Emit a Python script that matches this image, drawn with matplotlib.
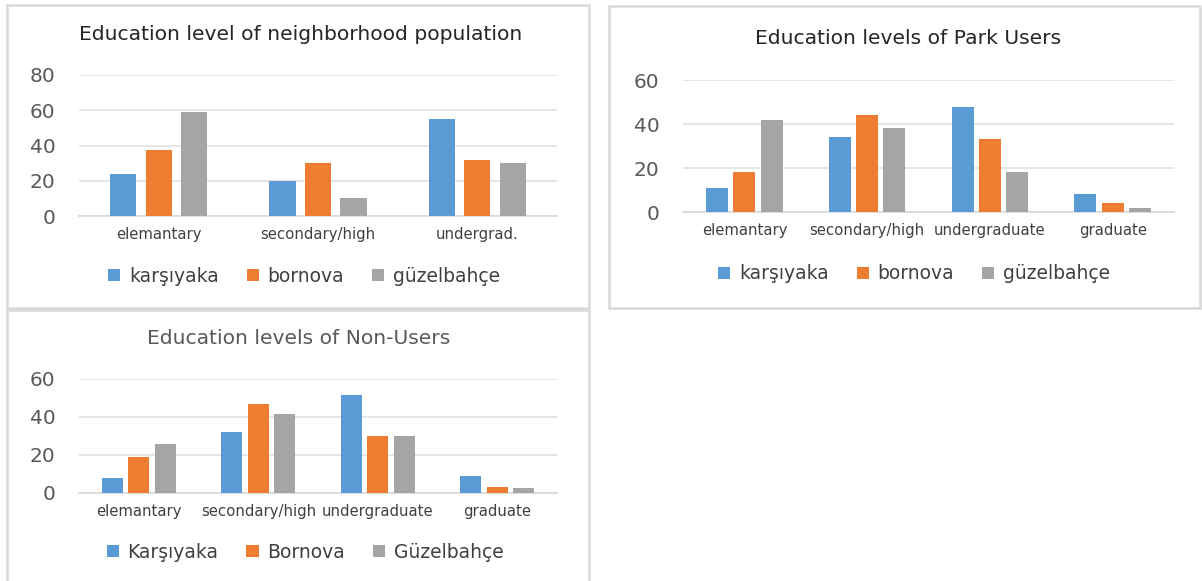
import matplotlib
matplotlib.use("Agg")
import matplotlib.pyplot as plt
from matplotlib.patches import Rectangle
import numpy as np

# data
cats_neigh = ['elemantary', 'secondary/high', 'undergrad.']
neigh_karsiyaka = [24, 20, 55]
neigh_bornova = [37.5, 30, 32]
neigh_guzelbahce = [59, 10, 30]

cats_users = ['elemantary', 'secondary/high', 'undergraduate', 'graduate']
users_karsiyaka = [11, 34, 47.5, 8]
users_bornova = [18, 44, 33, 4]
users_guzelbahce = [42, 38, 18, 1.7]

cats_non = ['elemantary', 'secondary/high', 'undergraduate', 'graduate']
non_karsiyaka = [8, 32, 51.5, 9]
non_bornova = [19, 47, 30, 3]
non_guzelbahce = [26, 41.5, 30, 2.5]

names_lower = ['karşıyaka', 'bornova', 'güzelbahçe']
names_upper = ['Karşıyaka', 'Bornova', 'Güzelbahçe']
colors = ['#5B9BD5', '#ED7D31', '#A5A5A5']

W, H = 1202, 581
plt.rcParams['font.family'] = ['DejaVu Sans']
fig = plt.figure(figsize=(W / 100, H / 100), dpi=100)


def px_axes(left, top, right, bottom):
    return fig.add_axes([left / W, 1 - bottom / H, (right - left) / W, (bottom - top) / H])


def border(x0, y0, x1, y1):
    fig.add_artist(Rectangle((x0 / W, 1 - y1 / H), (x1 - x0) / W, (y1 - y0) / H,
                             transform=fig.transFigure, fill=False,
                             edgecolor='#d9d9d9', lw=1.8))


def draw(ax, cats, series, ymax, width):
    x = np.arange(len(cats))
    handles = []
    for i, (vals, c) in enumerate(zip(series, colors)):
        h = ax.bar(x + (i - 1) * 0.222, vals, width=width, color=c, zorder=3)
        handles.append(h)
    ax.set_xlim(-0.5, len(cats) - 0.5)
    ax.set_ylim(0, ymax)
    ax.set_yticks(np.arange(0, ymax + 1, 20))
    ax.yaxis.grid(True, color='#e0e0e0', lw=1.2, zorder=0)
    for s in ['top', 'right', 'left']:
        ax.spines[s].set_visible(False)
    ax.spines['bottom'].set_color('#d9d9d9')
    ax.spines['bottom'].set_linewidth(1.2)
    ax.set_xticks(x)
    ax.set_xticklabels(cats, fontsize=10.7, color='#404040')
    ax.tick_params(axis='x', length=0, pad=8)
    ax.tick_params(axis='y', length=0, pad=17, labelsize=14.5, labelcolor='#595959')
    return handles


def legend(ax, handles, labels, cx, cy):
    ax.legend(handles, labels, loc='center', bbox_to_anchor=(cx / W, 1 - cy / H),
              bbox_transform=fig.transFigure, ncol=3, frameon=False,
              fontsize=13.5, handlelength=0.65, handleheight=0.65,
              handletextpad=0.45, columnspacing=1.5, labelcolor='#404040')


# panel borders
border(7, 5, 589, 308)
border(609, 6, 1200, 308)
border(7, 310, 589, 600)

# neighborhood population
ax1 = px_axes(79, 75, 557, 216)
h1 = draw(ax1, cats_neigh, [neigh_karsiyaka, neigh_bornova, neigh_guzelbahce], 80, 0.165)
fig.text(301 / W, 1 - 35 / H, 'Education level of neighborhood population',
         ha='center', va='center', fontsize=14.6, color='#262626')
legend(ax1, h1, names_lower, 304, 276)

# park users
ax2 = px_axes(683, 80, 1174, 212)
h2 = draw(ax2, cats_users, [users_karsiyaka, users_bornova, users_guzelbahce], 60, 0.18)
fig.text(908 / W, 1 - 38 / H, 'Education levels of Park Users',
         ha='center', va='center', fontsize=14.6, color='#262626')
legend(ax2, h2, names_lower, 914, 274)

# non-users
ax3 = px_axes(79, 379, 557, 493)
h3 = draw(ax3, cats_non, [non_karsiyaka, non_bornova, non_guzelbahce], 60, 0.176)
fig.text(299 / W, 1 - 339 / H, 'Education levels of Non-Users',
         ha='center', va='center', fontsize=14.6, color='#595959')
legend(ax3, h3, names_upper, 305, 552)

fig.savefig('out.png', dpi=100)
